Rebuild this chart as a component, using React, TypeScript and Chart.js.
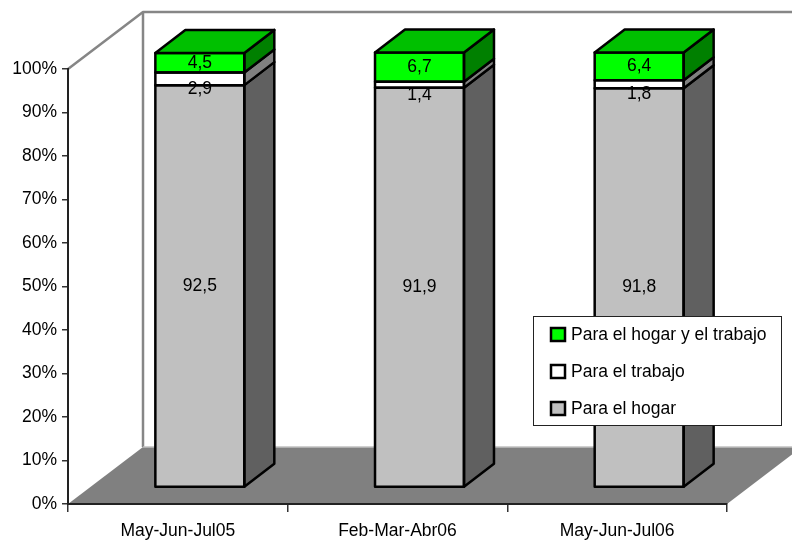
import React, { useEffect, useRef } from "react";
import { Chart, registerables } from "chart.js";

Chart.register(...registerables);

const categories = ["May-Jun-Jul05", "Feb-Mar-Abr06", "May-Jun-Jul06"];
const hogar = [92.5, 91.9, 91.8];
const trabajo = [2.9, 1.4, 1.8];
const ambos = [4.5, 6.7, 6.4];
const seriesNames = ["Para el hogar", "Para el trabajo", "Para el hogar y el trabajo"];

const FONT = '"Liberation Sans", Arial, sans-serif';
const FONT_SIZE = 17.5;
const FRONT = ["#C0C0C0", "#FFFFFF", "#00FF00"];
const SIDE = ["#606060", "#808080", "#008000"];
const TOP = "#00C000";
const SHIFT_X = 22;
const SHIFT_Y = -16.5;
const DEPTH_X = 30;
const DEPTH_Y = 23;
const LABEL_DY = [0, 10, 0];
const EDGE = 2.5;

function poly(ctx: CanvasRenderingContext2D, pts: number[][], fill: string | null, stroke?: string, lw = EDGE) {
  ctx.beginPath();
  pts.forEach((p, i) => (i ? ctx.lineTo(p[0], p[1]) : ctx.moveTo(p[0], p[1])));
  if (fill) {
    ctx.closePath();
    ctx.fillStyle = fill;
    ctx.fill();
  }
  if (stroke) {
    ctx.strokeStyle = stroke;
    ctx.lineWidth = lw;
    ctx.lineJoin = "round";
    ctx.stroke();
  }
}

const scene3d = {
  id: "scene3d",
  beforeDatasetsDraw(chart: any) {
    const { ctx } = chart;
    ctx.save();
    ctx.translate(SHIFT_X, SHIFT_Y);
  },
  afterDatasetsDraw(chart: any) {
    const { ctx } = chart;
    chart.data.datasets.forEach((ds: any, di: number) => {
      const meta = chart.getDatasetMeta(di);
      meta.data.forEach((bar: any) => {
        const { x, y, base, width } = bar.getProps(["x", "y", "base", "width"], true);
        const r = x + width / 2;
        const l = x - width / 2;
        poly(ctx, [[r, y], [r + DEPTH_X, y - DEPTH_Y], [r + DEPTH_X, base - DEPTH_Y], [r, base]], SIDE[di], "#000");
        poly(ctx, [[l, y], [r, y], [r, base], [l, base]], null);
        ctx.beginPath();
        ctx.rect(l, y, width, base - y);
        ctx.strokeStyle = "#000";
        ctx.lineWidth = EDGE;
        ctx.stroke();
        if (di === chart.data.datasets.length - 1) {
          poly(ctx, [[l, y], [l + DEPTH_X, y - DEPTH_Y], [r + DEPTH_X, y - DEPTH_Y], [r, y]], TOP, "#000");
        }
      });
    });
    ctx.font = `${FONT_SIZE}px ${FONT}`;
    ctx.fillStyle = "#000";
    ctx.textAlign = "center";
    ctx.textBaseline = "middle";
    chart.data.datasets.forEach((ds: any, di: number) => {
      const meta = chart.getDatasetMeta(di);
      meta.data.forEach((bar: any, i: number) => {
        const { x, y, base } = bar.getProps(["x", "y", "base"], true);
        ctx.fillText(String(ds.data[i]).replace(".", ","), x, (y + base) / 2 + LABEL_DY[di]);
      });
    });
    ctx.restore();
  },
  beforeDraw(chart: any) {
    const { ctx, chartArea: a } = chart;
    const backX = a.left + 75;
    const backB = a.bottom - 57;
    const backT = a.top - 57;
    ctx.save();
    poly(ctx, [[a.left, a.bottom], [backX, backB], [a.right + 75, backB], [a.right, a.bottom]], "#808080");
    poly(ctx, [[a.left, a.top], [backX, backT], [chart.width + 2, backT]], null, "#868686", 2.5);
    poly(ctx, [[backX, backT], [backX, backB]], null, "#868686", 2.5);
    poly(ctx, [[backX, backB], [chart.width + 2, backB]], null, "#C0C0C0", 1.5);
    ctx.restore();
  },
  afterDraw(chart: any) {
    const { ctx } = chart;
    ctx.save();
    ctx.fillStyle = "#fff";
    ctx.fillRect(533.5, 316.5, 248, 109);
    ctx.strokeStyle = "#222";
    ctx.lineWidth = 1;
    ctx.strokeRect(533.5, 316.5, 248, 109);
    const rows = [2, 1, 0];
    ctx.font = `${FONT_SIZE}px ${FONT}`;
    ctx.textAlign = "left";
    ctx.textBaseline = "middle";
    rows.forEach((di, k) => {
      const cy = 334.5 + k * 37;
      ctx.fillStyle = FRONT[di];
      ctx.fillRect(551, cy - 6.5, 14, 13);
      ctx.strokeStyle = "#000";
      ctx.lineWidth = 2.5;
      ctx.strokeRect(551, cy - 6.5, 14, 13);
      ctx.fillStyle = "#000";
      ctx.fillText(chart.data.datasets[di].label, 571, cy + 1);
    });
    ctx.restore();
  },
};

export default function App() {
  const ref = useRef<HTMLCanvasElement>(null);
  useEffect(() => {
    const values = [hogar, trabajo, ambos];
    const chart = new Chart(ref.current!, {
      type: "bar",
      data: {
        labels: categories,
        datasets: values.map((data, i) => ({
          label: seriesNames[i],
          data,
          backgroundColor: FRONT[i],
          borderWidth: 0,
          clip: false,
          barPercentage: 0.405,
          categoryPercentage: 1,
        })),
      } as any,
      options: {
        animation: false,
        responsive: false,
        layout: { padding: { top: 69, right: 65, left: 0, bottom: 0 } },
        plugins: { legend: { display: false }, tooltip: { enabled: false } },
        scales: {
          x: {
            stacked: true,
            afterFit: (s: any) => { s.height = 37; },
            grid: { drawOnChartArea: false, color: "#333", tickLength: 8, lineWidth: 1.5 },
            border: { color: "#222", width: 2 },
            ticks: { color: "#000", font: { family: FONT, size: FONT_SIZE }, padding: 9, maxRotation: 0 },
          },
          y: {
            stacked: true,
            min: 0,
            max: 100,
            afterFit: (s: any) => { s.width = 68; },
            grid: { drawOnChartArea: false, color: "#333", tickLength: 6, lineWidth: 1.5 },
            border: { color: "#222", width: 2 },
            ticks: {
              stepSize: 10,
              color: "#000",
              padding: 5,
              font: { family: FONT, size: FONT_SIZE },
              callback: (v: any) => `${v}%`,
            },
          },
        },
      },
      plugins: [scene3d],
    } as any);
    return () => chart.destroy();
  }, []);
  return (
    <canvas
      ref={ref}
      width={792}
      height={541}
      style={{ position: "absolute", left: 0, top: 0, width: 792, height: 541, display: "block" }}
    />
  );
}
